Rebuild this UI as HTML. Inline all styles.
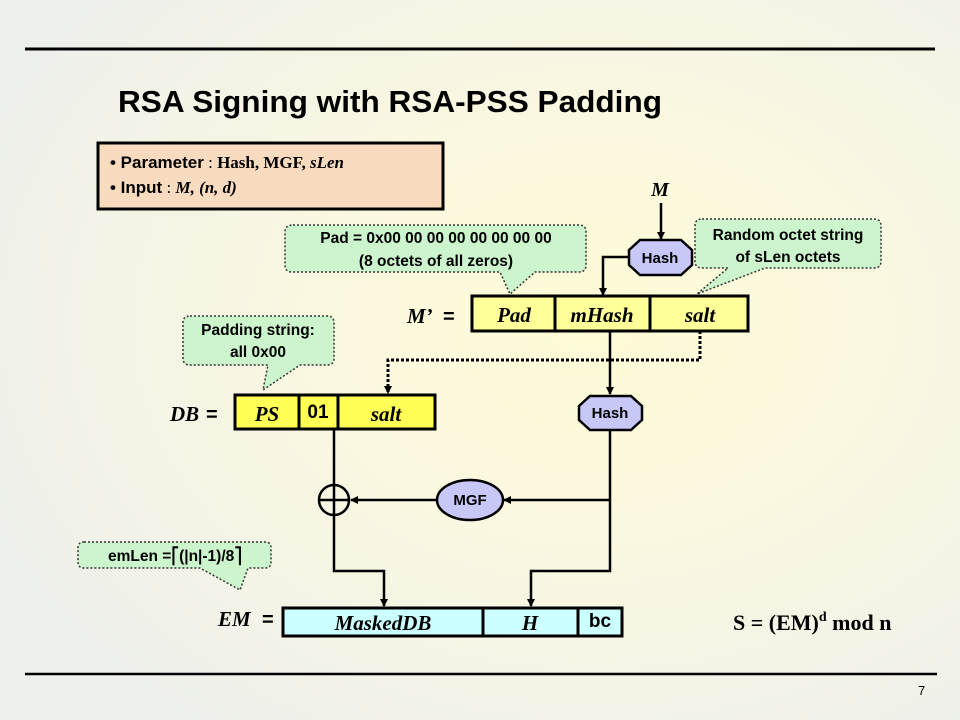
<!DOCTYPE html>
<html><head><meta charset="utf-8"><style>
html,body{margin:0;padding:0;width:960px;height:720px;overflow:hidden}
body{background:radial-gradient(ellipse 70% 70% at 62% 45%, #fefbd6 0%, #fbf8e0 40%, #eef0ec 100%)}
svg{position:absolute;left:0;top:0}
.s{font-family:"Liberation Sans",sans-serif;font-weight:bold}
.r{font-family:"Liberation Serif",serif;font-weight:bold;font-style:italic}
</style></head><body>
<svg width="960" height="720" viewBox="0 0 960 720">
<defs><marker id="a" markerWidth="8" markerHeight="8" refX="7" refY="4" orient="auto" markerUnits="userSpaceOnUse"><path d="M0,0 L8,4 L0,8 Z" fill="#000"/></marker></defs>
<line x1="25" y1="49" x2="935" y2="49" stroke="#000" stroke-width="3"/>
<line x1="25" y1="674" x2="937" y2="674" stroke="#000" stroke-width="2.5"/>
<text x="118" y="112" class="s" font-size="31" textLength="544" lengthAdjust="spacingAndGlyphs">RSA Signing with RSA-PSS Padding</text>
<text x="918" y="695" font-family="Liberation Sans" font-size="13">7</text>

<rect x="98" y="143" width="345" height="66" fill="#f9dcc0" stroke="#000" stroke-width="3"/>
<text x="110" y="168" font-size="17"><tspan class="s">• Parameter</tspan><tspan font-family="Liberation Serif"> : </tspan><tspan font-family="Liberation Serif" font-weight="bold">Hash, MGF, </tspan><tspan class="r">sLen</tspan></text>
<text x="110" y="193" font-size="17"><tspan class="s">• Input</tspan><tspan font-family="Liberation Serif"> : </tspan><tspan class="r">M, (n, d)</tspan></text>

<g fill="#cdf5cd" stroke="#333" stroke-width="1.5" stroke-dasharray="2,2">
<path d="M293,225 H579 Q586,225 586,232 V265 Q586,272 579,272 H535 L510,294 L500,272 H292 Q285,272 285,265 V232 Q285,225 293,225 Z"/>
<path d="M702,219 H874 Q881,219 881,226 V261 Q881,268 874,268 H765 L697,294 L728,268 H702 Q695,268 695,261 V226 Q695,219 702,219 Z"/>
<path d="M190,316 H327 Q334,316 334,323 V358 Q334,365 327,365 H300 L263,390 L268,365 H190 Q183,365 183,358 V323 Q183,316 190,316 Z"/>
<path d="M84,542 H265 Q271,542 271,548 V562 Q271,568 265,568 H248 L240,590 L200,568 H84 Q78,568 78,562 V548 Q78,542 84,542 Z"/>
</g>
<g class="s" font-size="15.5" text-anchor="middle">
<text x="436" y="243">Pad = 0x00 00 00 00 00 00 00 00</text>
<text x="436" y="266">(8 octets of all zeros)</text>
<text x="788" y="240">Random octet string</text>
<text x="788" y="262">of sLen octets</text>
<text x="258" y="335">Padding string:</text>
<text x="258" y="357">all 0x00</text>
<text x="175" y="561">emLen =⎡(|n|-1)/8⎤</text>
</g>

<text x="660" y="196" class="r" font-size="20" text-anchor="middle">M</text>
<line x1="661" y1="203" x2="661" y2="239" stroke="#000" stroke-width="2.5" marker-end="url(#a)"/>
<polygon points="640,240 681,240 692,250 692,265 681,275 640,275 629,265 629,250" fill="#c8c8f8" stroke="#000" stroke-width="2.5"/>
<text x="660" y="263" class="s" font-size="15" text-anchor="middle">Hash</text>
<polyline points="629,257 603,257 603,295" fill="none" stroke="#000" stroke-width="2.5" marker-end="url(#a)"/>

<text x="407" y="323" class="r" font-size="21">M’</text><text x="443" y="323" class="s" font-size="20">=</text>
<rect x="472" y="296" width="276" height="35" fill="#ffff99" stroke="#000" stroke-width="3"/>
<line x1="555" y1="296" x2="555" y2="331" stroke="#000" stroke-width="3"/>
<line x1="650" y1="296" x2="650" y2="331" stroke="#000" stroke-width="3"/>
<g class="r" font-size="21" text-anchor="middle">
<text x="514" y="322">Pad</text><text x="602" y="322">mHash</text><text x="700" y="322">salt</text>
</g>
<polyline points="700,331 700,360 388,360 388,393" fill="none" stroke="#000" stroke-width="3" stroke-dasharray="3,2" marker-end="url(#a)"/>
<line x1="610" y1="331" x2="610" y2="394" stroke="#000" stroke-width="2.5" marker-end="url(#a)"/>

<text x="170" y="421" class="r" font-size="21">DB</text><text x="206" y="421" class="s" font-size="20">=</text>
<rect x="235" y="395" width="200" height="34" fill="#ffff55" stroke="#000" stroke-width="3"/>
<line x1="299" y1="395" x2="299" y2="429" stroke="#000" stroke-width="3"/>
<line x1="338" y1="395" x2="338" y2="429" stroke="#000" stroke-width="3"/>
<text x="267" y="421" class="r" font-size="21" text-anchor="middle">PS</text>
<text x="318" y="418" class="s" font-size="19" text-anchor="middle">01</text>
<text x="386" y="421" class="r" font-size="21" text-anchor="middle">salt</text>

<polygon points="590,396 631,396 642,406 642,420 631,430 590,430 579,420 579,406" fill="#c8c8f8" stroke="#000" stroke-width="2.5"/>
<text x="610" y="418" class="s" font-size="15" text-anchor="middle">Hash</text>
<polyline points="610,430 610,571 531,571 531,606" fill="none" stroke="#000" stroke-width="2.5" marker-end="url(#a)"/>
<line x1="610" y1="500" x2="504" y2="500" stroke="#000" stroke-width="2.5" marker-end="url(#a)"/>
<ellipse cx="470" cy="500" rx="33" ry="20" fill="#c8c8f8" stroke="#000" stroke-width="2.5"/>
<text x="470" y="505" class="s" font-size="15" text-anchor="middle">MGF</text>
<line x1="437" y1="500" x2="351" y2="500" stroke="#000" stroke-width="2.5" marker-end="url(#a)"/>
<polyline points="334,429 334,571 384,571 384,606" fill="none" stroke="#000" stroke-width="2.5" marker-end="url(#a)"/>
<circle cx="334" cy="500" r="15" fill="none" stroke="#000" stroke-width="2.5"/>
<line x1="319" y1="500" x2="349" y2="500" stroke="#000" stroke-width="2.5"/>

<text x="218" y="626" class="r" font-size="21">EM</text><text x="262" y="626" class="s" font-size="20">=</text>
<rect x="283" y="608" width="339" height="28" fill="#ccffff" stroke="#000" stroke-width="3"/>
<line x1="483" y1="608" x2="483" y2="636" stroke="#000" stroke-width="3"/>
<line x1="578" y1="608" x2="578" y2="636" stroke="#000" stroke-width="3"/>
<text x="383" y="630" class="r" font-size="21" text-anchor="middle">MaskedDB</text>
<text x="530" y="630" class="r" font-size="21" text-anchor="middle">H</text>
<text x="600" y="627" class="s" font-size="19" text-anchor="middle">bc</text>

<text x="733" y="630" font-family="Liberation Serif" font-weight="bold" font-size="22">S = (EM)<tspan font-size="14" dy="-9">d</tspan><tspan dy="9"> mod n</tspan></text>
</svg>
</body></html>
